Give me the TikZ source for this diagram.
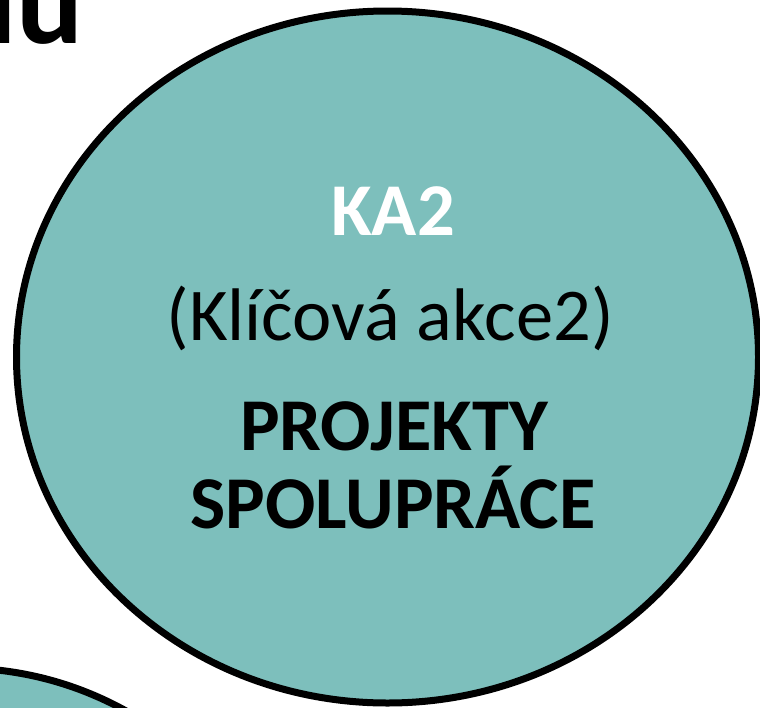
\documentclass[tikz,border=0pt]{standalone}
\usepackage{fontspec}
\setmainfont{Carlito}
\definecolor{tealfill}{HTML}{7DBFBC}
\begin{document}
\begin{tikzpicture}[x=1pt,y=-1pt,
  bubble/.style={fill=tealfill,draw=black,line width=7pt},
  big/.style={font=\fontsize{74.5}{88}\selectfont,anchor=base,inner sep=0pt},
  bigb/.style={big,font=\fontsize{74.5}{88}\selectfont\bfseries},
]
\useasboundingbox (0,0) rectangle (760,707);
\begin{scope}
\clip (0,0) rectangle (760,707);
\node[anchor=base east,inner sep=0pt,font=\fontsize{125}{150}\selectfont\bfseries] (title) at (84,43) {iu};
\draw[bubble] (387.5,357) ellipse [x radius=371, y radius=346];
\draw[bubble] (-40,1010) circle [radius=342];
\end{scope}
\node[bigb,text=white] (ka) at (393,235) {KA2};
\node[big] (sub) at (390,340) {(Klíčová akce2)};
\node[bigb] (p1) at (394,450) {PROJEKTY};
\node[bigb] (p2) at (393,528) {SPOLUPRÁCE};
\end{tikzpicture}
\end{document}
